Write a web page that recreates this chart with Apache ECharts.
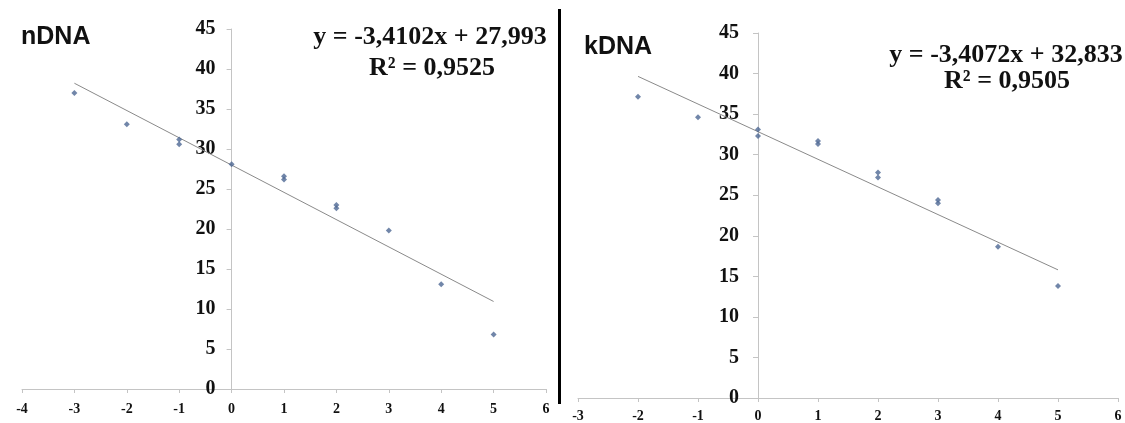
<!DOCTYPE html>
<html>
<head>
<meta charset="utf-8">
<script src="https://cdn.jsdelivr.net/npm/echarts@6/dist/echarts.min.js"></script>
<style>
html,body{margin:0;padding:0;background:#fff;}
#chart{width:1125px;height:423px;}
</style>
</head>
<body>
<div id="chart"></div>
<script>
// nDNA data
const nX = [-3, -2, -1, -1, 0, 1, 1, 2, 2, 3, 4, 5];
const nY = [37.0, 33.1, 31.2, 30.6, 28.1, 26.6, 26.2, 23.0, 22.6, 19.8, 13.1, 6.8];
const nTrendX = [-3, 5];
const nTrendY = [38.22, 10.94];
// kDNA data
const kX = [-2, -1, 0, 0, 1, 1, 2, 2, 3, 3, 4, 5];
const kY = [37.15, 34.6, 33.1, 32.3, 31.7, 31.3, 27.8, 27.2, 24.4, 24.0, 18.65, 13.8];
const kTrendX = [-2, 5];
const kTrendY = [39.65, 15.80];
// labels
const titles = ['nDNA', 'kDNA'];
const equations = ['y = -3,4102x + 27,993', 'y = -3,4072x + 32,833'];
const r2 = ['R² = 0,9525', 'R² = 0,9505'];

const zip = (a, b) => a.map((v, i) => [v, b[i]]);

const serif = '"Liberation Serif","Times New Roman",serif';
const sans = '"Liberation Sans",Arial,sans-serif';
const axisGray = '#c4c4c4';
const markColor = '#4d6894';

const grids = [
  { left: 22, top: 29, width: 524, height: 360, xmin: -4, xmax: 6 },
  { left: 578, top: 33, width: 540, height: 365, xmin: -3, xmax: 6 }
];
// pixel distance from grid left edge to x = 0
const zeroOffset = g => g.width * (0 - g.xmin) / (g.xmax - g.xmin);

function xAxisOpt(gi, margin) {
  const g = grids[gi];
  return {
    type: 'value', gridIndex: gi, min: g.xmin, max: g.xmax, interval: 1,
    axisLine: { onZero: false, lineStyle: { color: axisGray, width: 1 } },
    axisTick: { show: true, length: 4, lineStyle: { color: axisGray } },
    splitLine: { show: false },
    axisLabel: { fontFamily: serif, fontWeight: 'bold', fontSize: 14, color: '#111', margin: margin }
  };
}
function yAxisOpt(gi, margin) {
  return {
    type: 'value', gridIndex: gi, min: 0, max: 45, interval: 5,
    offset: -zeroOffset(grids[gi]),
    axisLine: { show: true, onZero: false, lineStyle: { color: axisGray, width: 1 } },
    axisTick: { show: true, length: 5, lineStyle: { color: axisGray } },
    splitLine: { show: false },
    axisLabel: { fontFamily: serif, fontWeight: 'bold', fontSize: 20, color: '#111', margin: margin }
  };
}

const chart = echarts.init(document.getElementById('chart'), null, { renderer: 'canvas' });
chart.setOption({
  backgroundColor: '#fff',
  animation: false,
  grid: grids.map(g => ({ left: g.left, top: g.top, width: g.width, height: g.height })),
  xAxis: [ xAxisOpt(0, 13), xAxisOpt(1, 11) ],
  yAxis: [ yAxisOpt(0, 16), yAxisOpt(1, 19) ],
  series: [
    { type: 'line', xAxisIndex: 0, yAxisIndex: 0, data: zip(nTrendX, nTrendY), showSymbol: false,
      lineStyle: { color: '#8a8a8a', width: 1 }, z: 2 },
    { type: 'scatter', xAxisIndex: 0, yAxisIndex: 0, data: zip(nX, nY), symbol: 'diamond', symbolSize: 6,
      itemStyle: { color: markColor }, z: 3 },
    { type: 'line', xAxisIndex: 1, yAxisIndex: 1, data: zip(kTrendX, kTrendY), showSymbol: false,
      lineStyle: { color: '#8a8a8a', width: 1 }, z: 2 },
    { type: 'scatter', xAxisIndex: 1, yAxisIndex: 1, data: zip(kX, kY), symbol: 'diamond', symbolSize: 6,
      itemStyle: { color: markColor }, z: 3 }
  ],
  graphic: [
    { type: 'rect', shape: { x: 558, y: 9, width: 3, height: 395 }, style: { fill: '#000' } },
    { type: 'text', x: 21, y: 37, style: { text: titles[0], font: 'bold 25px ' + sans, fill: '#111', textVerticalAlign: 'middle' } },
    { type: 'text', x: 584, y: 47, style: { text: titles[1], font: 'bold 25px ' + sans, fill: '#111', textVerticalAlign: 'middle' } },
    { type: 'text', x: 430, y: 37, style: { text: equations[0], font: 'bold 26px ' + serif, fill: '#111', textAlign: 'center', textVerticalAlign: 'middle' } },
    { type: 'text', x: 432, y: 68, style: { text: r2[0], font: 'bold 26px ' + serif, fill: '#111', textAlign: 'center', textVerticalAlign: 'middle' } },
    { type: 'text', x: 1006, y: 55, style: { text: equations[1], font: 'bold 26px ' + serif, fill: '#111', textAlign: 'center', textVerticalAlign: 'middle' } },
    { type: 'text', x: 1007, y: 81, style: { text: r2[1], font: 'bold 26px ' + serif, fill: '#111', textAlign: 'center', textVerticalAlign: 'middle' } }
  ]
});
</script>
</body>
</html>
